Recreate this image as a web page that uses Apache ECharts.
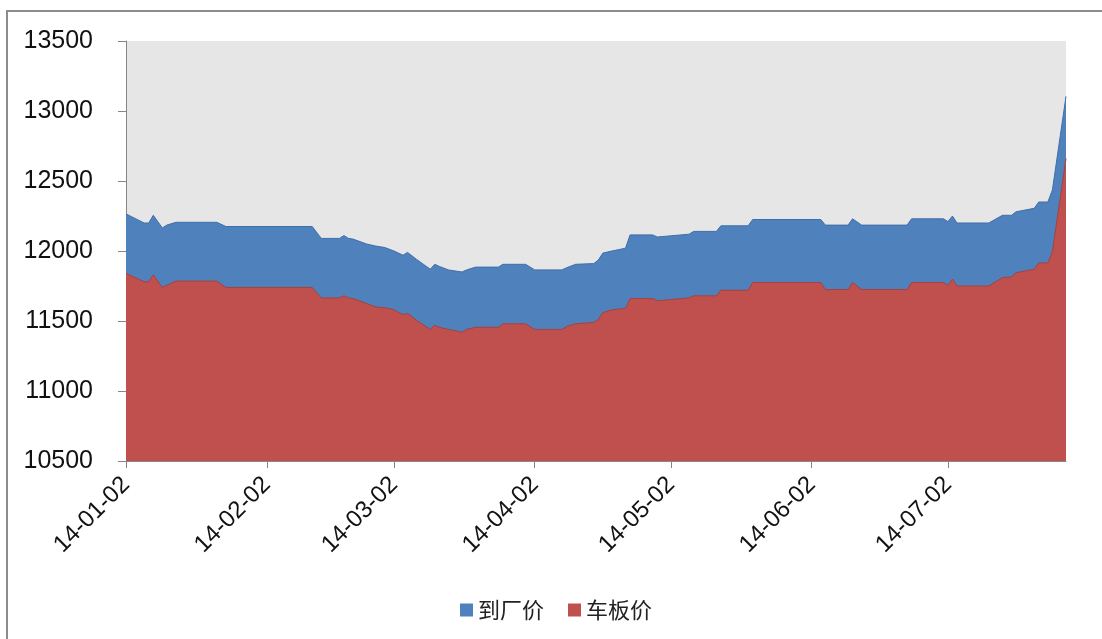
<!DOCTYPE html>
<html>
<head>
<meta charset="utf-8">
<script src="https://cdn.jsdelivr.net/npm/echarts@6/dist/echarts.min.js"></script>
<style>
html,body{margin:0;padding:0;background:#fff;}
#chart{width:1102px;height:639px;}
</style>
</head>
<body>
<div id="chart"></div>
<script>
// ---- data ----
const seriesNames = ['到厂价', '车板价'];
const dates = ['2014-01-02','2014-01-06','2014-01-07','2014-01-08','2014-01-10','2014-01-11','2014-01-13','2014-01-22','2014-01-24','2014-02-12',
  '2014-02-14','2014-02-18','2014-02-19','2014-02-20','2014-02-21','2014-02-24','2014-02-26','2014-02-28','2014-03-02','2014-03-04',
  '2014-03-05','2014-03-07','2014-03-10','2014-03-11','2014-03-12','2014-03-14','2014-03-17','2014-03-18','2014-03-20','2014-03-25',
  '2014-03-26','2014-03-31','2014-04-02','2014-04-08','2014-04-09','2014-04-11','2014-04-15','2014-04-16','2014-04-17','2014-04-19',
  '2014-04-22','2014-04-23','2014-04-28','2014-04-29','2014-05-06','2014-05-07','2014-05-12','2014-05-13','2014-05-19','2014-05-20',
  '2014-06-04','2014-06-05','2014-06-10','2014-06-11','2014-06-13','2014-06-23','2014-06-24','2014-07-01','2014-07-02','2014-07-03',
  '2014-07-04','2014-07-11','2014-07-14','2014-07-16','2014-07-17','2014-07-21','2014-07-22','2014-07-24','2014-07-25','2014-07-28'];
const arrivalPrice = [12265,12200,12200,12255,12165,12185,12205,12205,12175,12175,
  12090,12090,12110,12090,12085,12050,12035,12025,12000,11970,
  11990,11940,11870,11905,11890,11865,11850,11865,11885,11885,
  11905,11905,11865,11865,11880,11905,11910,11935,11985,12000,
  12020,12115,12115,12100,12120,12140,12140,12180,12180,12225,
  12225,12185,12185,12230,12185,12185,12230,12230,12210,12250,
  12200,12200,12255,12255,12280,12305,12350,12350,12435,13105];
const wagonPrice = [11840,11780,11780,11830,11740,11755,11785,11785,11740,11740,
  11665,11665,11680,11665,11660,11625,11600,11595,11580,11545,
  11555,11505,11440,11470,11455,11440,11420,11440,11455,11455,
  11480,11480,11440,11440,11460,11480,11490,11510,11560,11580,
  11590,11660,11660,11645,11665,11680,11680,11720,11720,11775,
  11775,11725,11725,11775,11725,11725,11775,11775,11755,11800,
  11750,11750,11810,11815,11845,11870,11915,11915,11995,12660];
const axisStart = '2014-01-02';
const axisEnd = '2014-07-28';
const yMin = 10500, yMax = 13500, yStep = 500;

// calendar-day categories for the date axis
function pad(n){return (n<10?'0':'')+n;}
const days = [];
{
  const d = new Date(axisStart + 'T00:00:00Z');
  const end = new Date(axisEnd + 'T00:00:00Z');
  while (d <= end) {
    days.push(d.getUTCFullYear() + '-' + pad(d.getUTCMonth()+1) + '-' + pad(d.getUTCDate()));
    d.setUTCDate(d.getUTCDate()+1);
  }
}
const isMonthTick = (i, v) => v.slice(8) === '02';

const chart = echarts.init(document.getElementById('chart'), null, {renderer:'canvas'});
const axisFont = 'Liberation Sans, Arial, sans-serif';
chart.setOption({
  animation: false,
  backgroundColor: '#ffffff',
  graphic: [{
    type: 'rect', silent: true, z: -10,
    shape: {x: 7, y: 11, width: 1300, height: 800},
    style: {fill: 'none', stroke: '#8c8c8c', lineWidth: 2}
  }],
  grid: {
    left: 126, right: 36, top: 41, bottom: 178,
    show: true, backgroundColor: '#e6e6e6', borderWidth: 0
  },
  legend: {
    data: seriesNames,
    left: 455, top: 594,
    itemWidth: 13, itemHeight: 13, itemGap: 24,
    icon: 'rect',
    textStyle: {fontFamily: 'Noto Sans CJK SC', fontSize: 22, color: '#222'}
  },
  xAxis: {
    type: 'category',
    data: days,
    boundaryGap: false,
    axisLine: {lineStyle: {color: '#868686', width: 1}},
    axisTick: {show: true, interval: isMonthTick, length: 7, lineStyle: {color: '#868686'}},
    axisLabel: {
      interval: isMonthTick,
      formatter: v => v.slice(2),
      rotate: 45, margin: 20,
      fontFamily: axisFont, fontSize: 24, color: '#111'
    },
    splitLine: {show: false}
  },
  yAxis: {
    type: 'value',
    min: yMin, max: yMax, interval: yStep,
    axisLine: {show: true, lineStyle: {color: '#868686', width: 1}},
    axisTick: {show: true, length: 8, lineStyle: {color: '#868686'}},
    axisLabel: {margin: 33, formatter: v => String(v), fontFamily: axisFont, fontSize: 25, color: '#111'},
    splitLine: {show: false}
  },
  series: [
    {
      name: seriesNames[0], type: 'line',
      data: dates.map((d, i) => [d, arrivalPrice[i]]),
      showSymbol: false, symbol: 'none',
      itemStyle: {color: '#4f81bd', borderColor: '#3c6ca6'},
      lineStyle: {color: '#3f6fa8', width: 1},
      areaStyle: {color: '#4f81bd', opacity: 1, origin: 'start'},
      z: 2
    },
    {
      name: seriesNames[1], type: 'line',
      data: dates.map((d, i) => [d, wagonPrice[i]]),
      showSymbol: false, symbol: 'none',
      itemStyle: {color: '#c0504d', borderColor: '#a1403d'},
      lineStyle: {color: '#a5423f', width: 1},
      areaStyle: {color: '#c0504d', opacity: 1, origin: 'start'},
      z: 3
    }
  ]
});
</script>
</body>
</html>
